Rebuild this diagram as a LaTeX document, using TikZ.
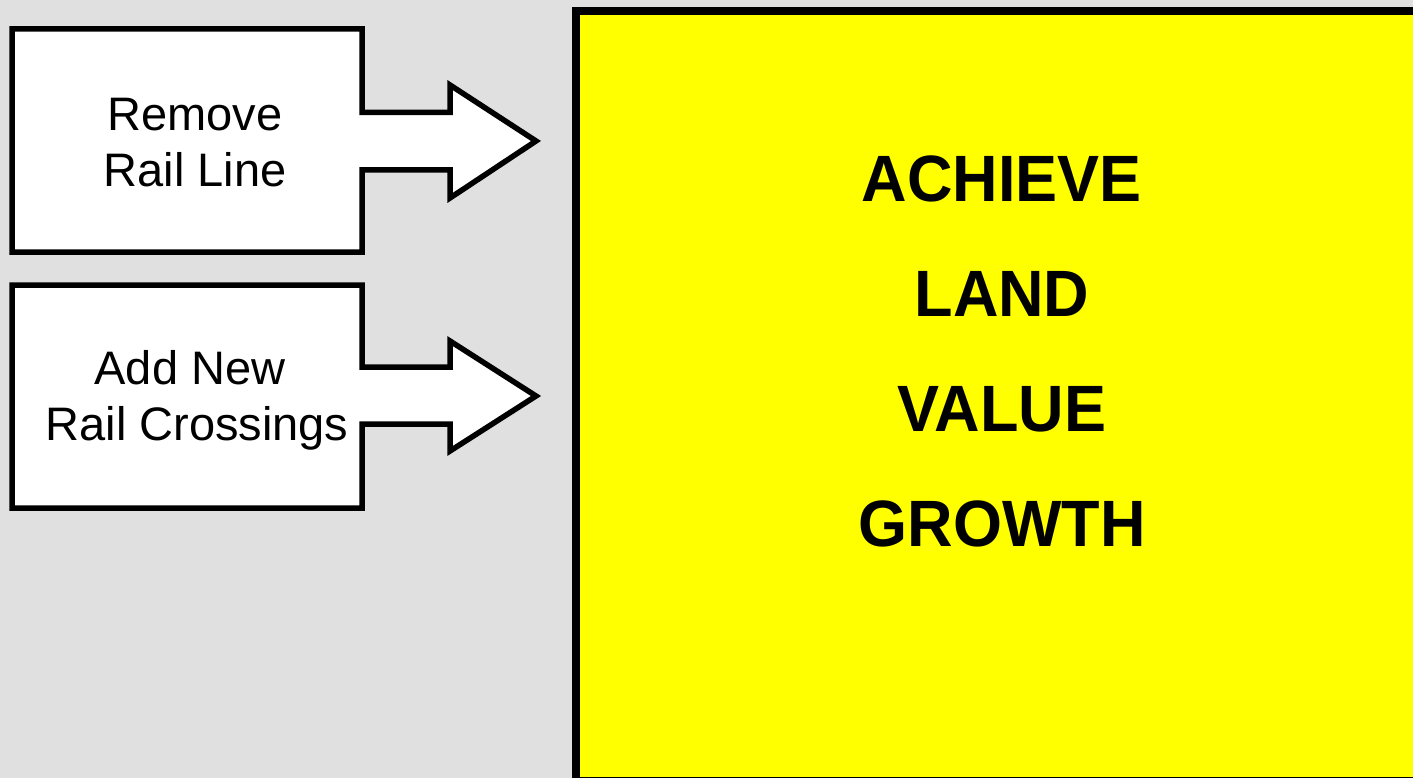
\documentclass[tikz,border=0pt]{standalone}
\usepackage{fontspec}
\setmainfont{Liberation Sans}
\definecolor{bggray}{HTML}{E0E0E0}
\definecolor{goalyellow}{HTML}{FFFF00}
\begin{document}
\begin{tikzpicture}[x=1pt,y=-1pt,
  arrowbox/.style={draw=black,fill=white,line width=5.5pt,miter limit=10,line join=miter},
  smalltxt/.style={font=\fontsize{47}{55}\selectfont,align=center,inner sep=0pt,anchor=base},
  bigtxt/.style={font=\fontsize{63}{70}\selectfont\bfseries,inner sep=0pt,anchor=base,yscale=1.04}]
  \useasboundingbox (0,0) rectangle (1413,778);
  \clip (0,0) rectangle (1413,778);
  \fill[bggray] (0,0) rectangle (1413,778);
  % goal box
  \draw[fill=goalyellow,draw=black,line width=8pt] (576,11) rectangle (1425,781);
  % arrow boxes
  \draw[arrowbox] (12,29) -- (362,29) -- (362,112.5) -- (450,112.5) -- (450,85) -- (536,141)
     -- (450,198) -- (450,170) -- (362,170) -- (362,252) -- (12,252) -- cycle;
  \draw[arrowbox] (12,285) -- (362,285) -- (362,367) -- (450,367) -- (450,341) -- (536,396)
     -- (450,451) -- (450,424) -- (362,424) -- (362,508) -- (12,508) -- cycle;
  \node[smalltxt] (t1a) at (195,131) {Remove};
  \node[smalltxt] (t1b) at (195,187) {Rail Line};
  \node[smalltxt] (t2a) at (190,384) {Add New};
  \node[smalltxt] (t2b) at (197,440) {Rail Crossings};
  \node[bigtxt] (g1) at (1002,202) {ACHIEVE};
  \node[bigtxt] (g2) at (1002,316) {LAND};
  \node[bigtxt] (g3) at (1002,431) {VALUE};
  \node[bigtxt] (g4) at (1002,546) {GROWTH};
\end{tikzpicture}
\end{document}
